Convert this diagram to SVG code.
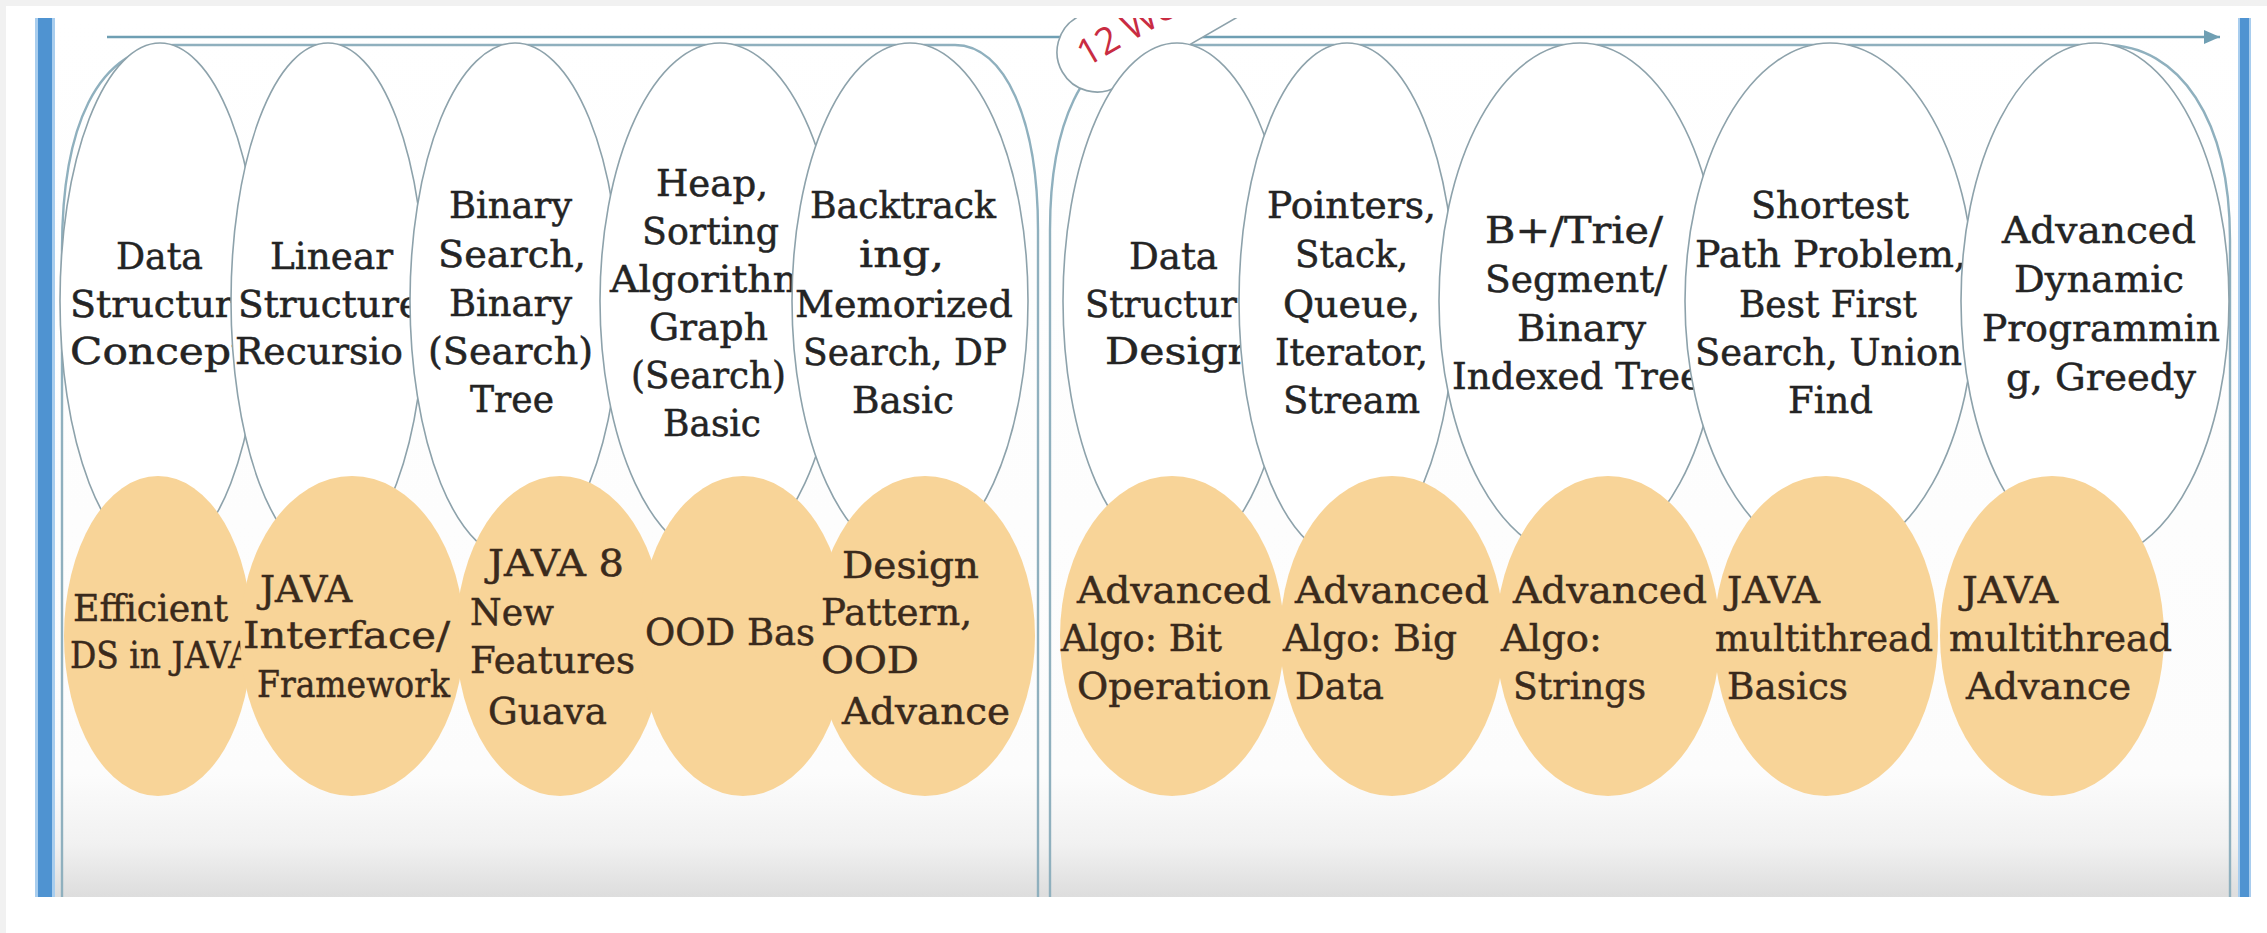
<svg xmlns="http://www.w3.org/2000/svg" width="2267" height="933" viewBox="0 0 2267 933">
<defs>
<style>
.top{fill:#ffffff;stroke:#8da2ab;stroke-width:1.6}
.org{fill:#f8d498;stroke:none}
.t{font-family:"DejaVu Serif","Liberation Serif",serif;font-size:37px;fill:#242424;stroke:#242424;stroke-width:0.5}
.o{font-family:"DejaVu Serif","Liberation Serif",serif;font-size:37px;fill:#3a2a1c;stroke:#3a2a1c;stroke-width:0.5}
.edge{fill:none;stroke:#8fb0be;stroke-width:2.4}
.arrowline{fill:none;stroke:#6f9fb3;stroke-width:2.4}
.bar{fill:#4f93d1}
.barglow{fill:#a8cdee}
.wk{font-family:"Open Sans","Liberation Sans",sans-serif;font-size:37px;fill:#c92c42}
</style>
<linearGradient id="bg" x1="0" y1="0" x2="0" y2="1">
<stop offset="0" stop-color="#ffffff"/>
<stop offset="0.86" stop-color="#fcfcfc"/>
<stop offset="0.94" stop-color="#f1f1f1"/>
<stop offset="1" stop-color="#dddddd"/>
</linearGradient>
<clipPath id="panelclip"><rect x="0" y="18" width="2267" height="900"/></clipPath>
<marker id="arrowhead" markerUnits="userSpaceOnUse" markerWidth="18" markerHeight="14" refX="16" refY="7" orient="auto">
<path d="M0,0 L16,7 L0,14 Z" fill="#6f9fb3"/>
</marker>
</defs>

<rect x="0" y="0" width="2267" height="933" fill="#ffffff"/>
<rect x="0" y="0" width="2267" height="6" fill="#f1f1f1"/>
<rect x="0" y="0" width="6" height="933" fill="#f1f1f1"/>
<rect x="53" y="18" width="2187" height="879" fill="url(#bg)"/>

<g id="frame">
<rect class="barglow" x="35" y="18" width="20" height="879"/>
<rect class="bar" x="38" y="18" width="14" height="879"/>
<rect class="barglow" x="2238" y="18" width="13" height="879"/>
<rect class="bar" x="2240" y="18" width="9" height="879"/>
</g>

<g id="connectors">
<line class="arrowline" x1="107" y1="37" x2="2220" y2="37" marker-end="url(#arrowhead)"/>
<path class="edge" d="M62,897 V250 C62,130 95,45 175,45 H955 C1005,45 1038,120 1038,230 V897"/>
<path class="edge" d="M1050,897 V230 C1050,130 1080,45 1150,45 H2105 C2180,45 2230,120 2230,240 V897"/>
</g>

<g id="left-topics">
<g id="n-ds-concept">
<ellipse class="top" cx="160" cy="301" rx="100" ry="258"/>
<text class="t" x="116" y="269" textLength="87" lengthAdjust="spacingAndGlyphs">Data</text>
<text class="t" x="70" y="317" textLength="163" lengthAdjust="spacingAndGlyphs">Structur</text>
<text class="t" x="70" y="364" textLength="178" lengthAdjust="spacingAndGlyphs">Concept</text>
</g>
<g id="n-linear">
<ellipse class="top" cx="328" cy="301" rx="97" ry="258"/>
<text class="t" x="270" y="269" textLength="123" lengthAdjust="spacingAndGlyphs">Linear</text>
<text class="t" x="238" y="317" textLength="183" lengthAdjust="spacingAndGlyphs">Structure</text>
<text class="t" x="235" y="364" textLength="168" lengthAdjust="spacingAndGlyphs">Recursio</text>
</g>
<g id="n-binary">
<ellipse class="top" cx="515" cy="301" rx="105" ry="258"/>
<text class="t" x="449" y="218" textLength="123" lengthAdjust="spacingAndGlyphs">Binary</text>
<text class="t" x="438" y="267" textLength="148" lengthAdjust="spacingAndGlyphs">Search,</text>
<text class="t" x="449" y="316" textLength="123" lengthAdjust="spacingAndGlyphs">Binary</text>
<text class="t" x="428" y="364" textLength="165" lengthAdjust="spacingAndGlyphs">(Search)</text>
<text class="t" x="470" y="412" textLength="84" lengthAdjust="spacingAndGlyphs">Tree</text>
</g>
<g id="n-heap">
<ellipse class="top" cx="720" cy="301" rx="120" ry="258"/>
<text class="t" x="656" y="196" textLength="112" lengthAdjust="spacingAndGlyphs">Heap,</text>
<text class="t" x="642" y="244" textLength="137" lengthAdjust="spacingAndGlyphs">Sorting</text>
<text class="t" x="610" y="292" textLength="200" lengthAdjust="spacingAndGlyphs">Algorithm</text>
<text class="t" x="649" y="340" textLength="119" lengthAdjust="spacingAndGlyphs">Graph</text>
<text class="t" x="631" y="388" textLength="155" lengthAdjust="spacingAndGlyphs">(Search)</text>
<text class="t" x="663" y="436" textLength="98" lengthAdjust="spacingAndGlyphs">Basic</text>
</g>
<g id="n-backtracking">
<ellipse class="top" cx="910" cy="301" rx="118" ry="258"/>
<text class="t" x="810" y="218" textLength="186" lengthAdjust="spacingAndGlyphs">Backtrack</text>
<text class="t" x="859" y="267" textLength="85" lengthAdjust="spacingAndGlyphs">ing,</text>
<text class="t" x="795" y="317" textLength="218" lengthAdjust="spacingAndGlyphs">Memorized</text>
<text class="t" x="803" y="365" textLength="204" lengthAdjust="spacingAndGlyphs">Search, DP</text>
<text class="t" x="852" y="413" textLength="102" lengthAdjust="spacingAndGlyphs">Basic</text>
</g>
</g>

<g id="week-label" clip-path="url(#panelclip)">
<g transform="translate(1097,52) rotate(-30)">
<rect x="-40" y="-40" width="320" height="80" rx="40" ry="40" fill="#ffffff" stroke="#8da2ab" stroke-width="1.6"/>
<text class="wk" x="-17" y="8">12 We</text>
</g>
</g>

<g id="right-topics">
<g id="n-ds-design">
<ellipse class="top" cx="1177" cy="301" rx="114" ry="258"/>
<text class="t" x="1129" y="269" textLength="89" lengthAdjust="spacingAndGlyphs">Data</text>
<text class="t" x="1085" y="317" textLength="152" lengthAdjust="spacingAndGlyphs">Structur</text>
<text class="t" x="1105" y="364" textLength="150" lengthAdjust="spacingAndGlyphs">Design</text>
</g>
<g id="n-pointers">
<ellipse class="top" cx="1347" cy="301" rx="108" ry="258"/>
<text class="t" x="1267" y="218" textLength="169" lengthAdjust="spacingAndGlyphs">Pointers,</text>
<text class="t" x="1295" y="267" textLength="113" lengthAdjust="spacingAndGlyphs">Stack,</text>
<text class="t" x="1283" y="317" textLength="137" lengthAdjust="spacingAndGlyphs">Queue,</text>
<text class="t" x="1275" y="365" textLength="153" lengthAdjust="spacingAndGlyphs">Iterator,</text>
<text class="t" x="1283" y="413" textLength="137" lengthAdjust="spacingAndGlyphs">Stream</text>
</g>
<g id="n-bplus">
<ellipse class="top" cx="1580" cy="301" rx="141" ry="258"/>
<text class="t" x="1485" y="243" textLength="178" lengthAdjust="spacingAndGlyphs">B+/Trie/</text>
<text class="t" x="1485" y="292" textLength="182" lengthAdjust="spacingAndGlyphs">Segment/</text>
<text class="t" x="1517" y="341" textLength="129" lengthAdjust="spacingAndGlyphs">Binary</text>
<text class="t" x="1452" y="389" textLength="250" lengthAdjust="spacingAndGlyphs">Indexed Tree</text>
</g>
<g id="n-shortest">
<ellipse class="top" cx="1830" cy="301" rx="145" ry="258"/>
<text class="t" x="1751" y="218" textLength="158" lengthAdjust="spacingAndGlyphs">Shortest</text>
<text class="t" x="1695" y="267" textLength="271" lengthAdjust="spacingAndGlyphs">Path Problem,</text>
<text class="t" x="1739" y="317" textLength="178" lengthAdjust="spacingAndGlyphs">Best First</text>
<text class="t" x="1695" y="365" textLength="267" lengthAdjust="spacingAndGlyphs">Search, Union</text>
<text class="t" x="1788" y="413" textLength="85" lengthAdjust="spacingAndGlyphs">Find</text>
</g>
<g id="n-adv-dp">
<ellipse class="top" cx="2095" cy="301" rx="134" ry="258"/>
<text class="t" x="2002" y="243" textLength="194" lengthAdjust="spacingAndGlyphs">Advanced</text>
<text class="t" x="2014" y="292" textLength="170" lengthAdjust="spacingAndGlyphs">Dynamic</text>
<text class="t" x="1982" y="341" textLength="238" lengthAdjust="spacingAndGlyphs">Programmin</text>
<text class="t" x="2006" y="390" textLength="190" lengthAdjust="spacingAndGlyphs">g, Greedy</text>
</g>
</g>

<g id="left-java">
<g id="n-efficient">
<ellipse class="org" cx="158" cy="636" rx="94" ry="160"/>
<text class="o" x="73" y="621" textLength="155" lengthAdjust="spacingAndGlyphs">Efficient</text>
<text class="o" x="70" y="668" textLength="182" lengthAdjust="spacingAndGlyphs">DS in JAVA</text>
</g>
<g id="n-interface">
<ellipse class="org" cx="352" cy="636" rx="112" ry="160"/>
<text class="o" x="260" y="602" textLength="92" lengthAdjust="spacingAndGlyphs">JAVA</text>
<text class="o" x="243" y="648" textLength="207" lengthAdjust="spacingAndGlyphs">Interface/</text>
<text class="o" x="257" y="697" textLength="193" lengthAdjust="spacingAndGlyphs">Framework</text>
</g>
<g id="n-java8">
<ellipse class="org" cx="560" cy="636" rx="104" ry="160"/>
<text class="o" x="488" y="576" textLength="136" lengthAdjust="spacingAndGlyphs">JAVA 8</text>
<text class="o" x="470" y="625" textLength="84" lengthAdjust="spacingAndGlyphs">New</text>
<text class="o" x="470" y="673" textLength="165" lengthAdjust="spacingAndGlyphs">Features</text>
<text class="o" x="488" y="724" textLength="119" lengthAdjust="spacingAndGlyphs">Guava</text>
</g>
<g id="n-ood-basic">
<ellipse class="org" cx="743" cy="636" rx="104" ry="160"/>
<text class="o" x="645" y="645" textLength="170" lengthAdjust="spacingAndGlyphs">OOD Bas</text>
</g>
<g id="n-design-pattern">
<ellipse class="org" cx="925" cy="636" rx="110" ry="160"/>
<text class="o" x="842" y="578" textLength="137" lengthAdjust="spacingAndGlyphs">Design</text>
<text class="o" x="821" y="625" textLength="151" lengthAdjust="spacingAndGlyphs">Pattern,</text>
<text class="o" x="821" y="673" textLength="98" lengthAdjust="spacingAndGlyphs">OOD</text>
<text class="o" x="842" y="724" textLength="168" lengthAdjust="spacingAndGlyphs">Advance</text>
</g>
</g>

<g id="right-java">
<g id="n-bit">
<ellipse class="org" cx="1172" cy="636" rx="112" ry="160"/>
<text class="o" x="1077" y="603" textLength="194" lengthAdjust="spacingAndGlyphs">Advanced</text>
<text class="o" x="1061" y="651" textLength="161" lengthAdjust="spacingAndGlyphs">Algo: Bit</text>
<text class="o" x="1077" y="699" textLength="194" lengthAdjust="spacingAndGlyphs">Operation</text>
</g>
<g id="n-bigdata">
<ellipse class="org" cx="1392" cy="636" rx="112" ry="160"/>
<text class="o" x="1295" y="603" textLength="194" lengthAdjust="spacingAndGlyphs">Advanced</text>
<text class="o" x="1283" y="651" textLength="174" lengthAdjust="spacingAndGlyphs">Algo: Big</text>
<text class="o" x="1295" y="699" textLength="89" lengthAdjust="spacingAndGlyphs">Data</text>
</g>
<g id="n-strings">
<ellipse class="org" cx="1608" cy="636" rx="112" ry="160"/>
<text class="o" x="1513" y="603" textLength="194" lengthAdjust="spacingAndGlyphs">Advanced</text>
<text class="o" x="1501" y="651" textLength="101" lengthAdjust="spacingAndGlyphs">Algo:</text>
<text class="o" x="1513" y="699" textLength="133" lengthAdjust="spacingAndGlyphs">Strings</text>
</g>
<g id="n-mt-basics">
<ellipse class="org" cx="1826" cy="636" rx="112" ry="160"/>
<text class="o" x="1727" y="603" textLength="93" lengthAdjust="spacingAndGlyphs">JAVA</text>
<text class="o" x="1715" y="651" textLength="218" lengthAdjust="spacingAndGlyphs">multithread</text>
<text class="o" x="1727" y="699" textLength="121" lengthAdjust="spacingAndGlyphs">Basics</text>
</g>
<g id="n-mt-advance">
<ellipse class="org" cx="2052" cy="636" rx="112" ry="160"/>
<text class="o" x="1962" y="603" textLength="96" lengthAdjust="spacingAndGlyphs">JAVA</text>
<text class="o" x="1949" y="651" textLength="223" lengthAdjust="spacingAndGlyphs">multithread</text>
<text class="o" x="1966" y="699" textLength="165" lengthAdjust="spacingAndGlyphs">Advance</text>
</g>
</g>
</svg>
